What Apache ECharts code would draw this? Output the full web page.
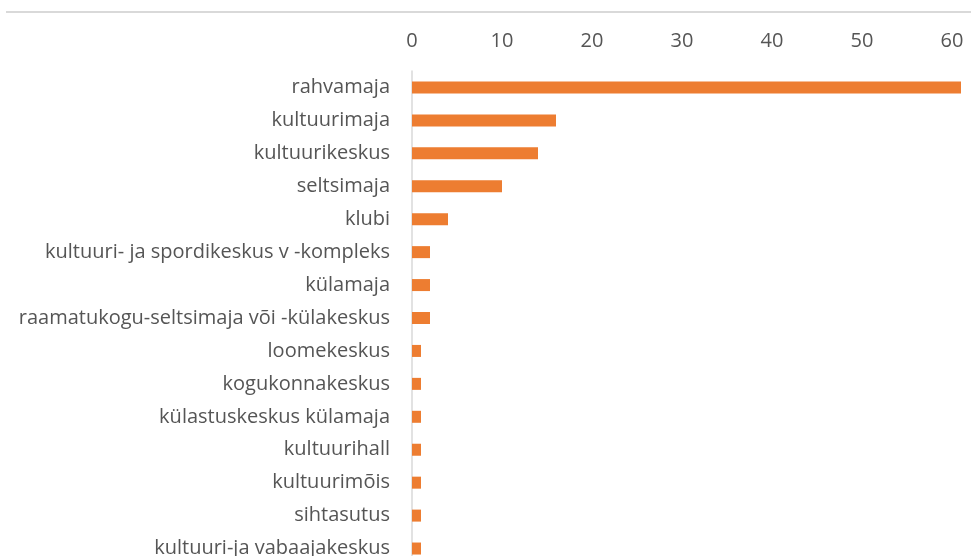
<!DOCTYPE html>
<html><head><meta charset="utf-8">
<script src="https://cdn.jsdelivr.net/npm/echarts@6/dist/echarts.min.js"></script>
<style>html,body{margin:0;padding:0;background:#fff}#c{width:971px;height:556px}</style>
</head><body><div id="c"></div>
<script>
const categories = [
  "rahvamaja",
  "kultuurimaja",
  "kultuurikeskus",
  "seltsimaja",
  "klubi",
  "kultuuri- ja spordikeskus v -kompleks",
  "külamaja",
  "raamatukogu-seltsimaja või -külakeskus",
  "loomekeskus",
  "kogukonnakeskus",
  "külastuskeskus külamaja",
  "kultuurihall",
  "kultuurimõis",
  "sihtasutus",
  "kultuuri-ja vabaajakeskus"
];
const values = [61, 16, 14, 10, 4, 2, 2, 2, 1, 1, 1, 1, 1, 1, 1];
const xTicks = [0, 10, 20, 30, 40, 50, 60, 70];

const chart = echarts.init(document.getElementById('c'));
chart.setOption({
  animation: false,
  graphic: [{
    type: 'line', shape: {x1: 6, y1: 12, x2: 971, y2: 12},
    style: {stroke: '#d9d9d9', lineWidth: 2}
  }],
  grid: {left: 412, top: 71, width: 630, height: 494, containLabel: false, outerBoundsMode: 'none'},
  xAxis: {
    type: 'value', position: 'top', min: xTicks[0], max: xTicks[xTicks.length-1], interval: 10,
    axisLine: {show: false}, axisTick: {show: false}, splitLine: {show: false},
    axisLabel: {color: '#555555', fontFamily: 'Open Sans', fontSize: 20, margin: 20}
  },
  yAxis: {
    type: 'category', data: categories, inverse: true,
    axisLine: {show: true, lineStyle: {color: '#d9d9d9', width: 1.5}},
    axisTick: {show: false},
    axisLabel: {color: '#555555', fontFamily: 'Open Sans', fontSize: 20, margin: 22}
  },
  series: [{
    type: 'bar', data: values, barWidth: 12,
    itemStyle: {color: '#ED7D31'}
  }]
});
</script></body></html>
